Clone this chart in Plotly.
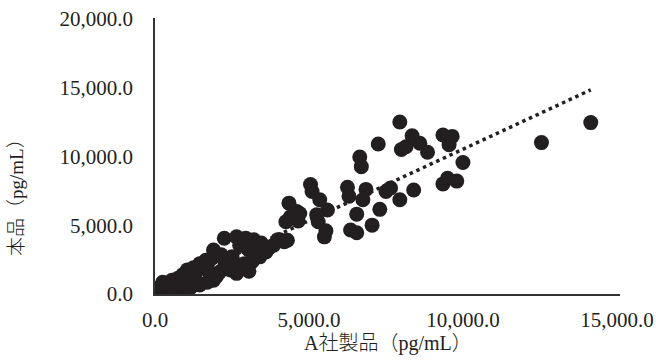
import numpy as np
import plotly.graph_objects as go

# A社製品 (pg/mL) vs 本品 (pg/mL)
x_a = [14150, 12550, 7950, 7250, 8000, 8150, 8350, 8600, 8850, 9350, 9650, 9550, 10000,
       9350, 9500, 9800, 6650, 6700, 6250, 6300, 6850, 6750, 6550, 6350, 6550, 7050, 7300,
       7500, 7650, 7950, 8400, 5050, 5100, 5350, 5600, 5250, 5300, 5500, 5550, 4350, 4600,
       4250, 4650, 4700, 4050, 4300, 4200, 3990, 3500, 2950, 3200, 3000, 3400, 2750, 2250,
       2650, 1900, 1650, 2150, 2500, 3050, 3300, 2750, 3150, 1550, 2100, 2650, 3050, 150,
       250, 400, 550, 750, 900, 1050, 1250, 1450, 1700, 1850, 500, 800, 1150, 1450, 1700,
       1900, 100, 200, 700, 1000, 1300, 2250, 2450, 2900, 3600, 3450, 3700, 3850, 350, 1350,
       2000, 1700, 4400]
y_hon = [12450, 11000, 12500, 10900, 10500, 10700, 11500, 10950, 10300, 11550, 11450, 10850, 9550,
         8000, 8400, 8200, 9950, 9250, 7750, 7100, 7600, 6850, 5800, 4650, 4450, 5000, 6150,
         7450, 7700, 6850, 7550, 7950, 7450, 6850, 6100, 5750, 5250, 4150, 4600, 6600, 6000,
         5250, 5300, 5850, 3950, 3900, 3800, 3950, 3100, 4050, 3950, 3300, 2700, 3550, 4050,
         4150, 3200, 2450, 2850, 2700, 3200, 3300, 2100, 2350, 1900, 1600, 1500, 1650, 500,
         850, 700, 1000, 1150, 1400, 1750, 1900, 2200, 2300, 2600, 300, 300, 450, 650, 850,
         1000, 200, 80, 550, 850, 1150, 1900, 1750, 2200, 3050, 3700, 3350, 3550, 600, 750,
         1300, 1750, 5600]

x_ticks = [0, 5000, 10000, 15000]
y_ticks = [0, 5000, 10000, 15000, 20000]
x_title = "A社製品（pg/mL）"
y_title = "本品（pg/mL）"

# linear trendline from the data
slope, intercept = np.polyfit(x_a, y_hon, 1)
tx = np.array([min(x_a), max(x_a)])
ty = slope * tx + intercept

FONT = "Liberation Serif, Times New Roman, Noto Sans CJK JP, serif"
TITLE_FONT = "Liberation Serif, Times New Roman, Noto Sans CJK JP Light, Noto Sans CJK JP, serif"
DARK = "#231F20"

fig = go.Figure()
fig.add_trace(go.Scatter(x=x_a, y=y_hon, mode="markers",
                         marker=dict(size=15, color=DARK, line=dict(width=0)),
                         showlegend=False, hoverinfo="skip"))
fig.add_trace(go.Scatter(x=tx, y=ty, mode="lines",
                         line=dict(color=DARK, width=3.5, dash="3.5px,3.8px"),
                         showlegend=False, hoverinfo="skip"))

fig.update_layout(
    width=656, height=363,
    margin=dict(l=155, r=36, t=18, b=69),
    paper_bgcolor="white", plot_bgcolor="white",
    font=dict(family=FONT, size=21, color=DARK),
    xaxis=dict(range=[0, 15100], tickvals=x_ticks,
               ticktext=[f"{v:,.1f}" for v in x_ticks],
               showgrid=False, zeroline=False, showline=True,
               linecolor="#333333", linewidth=1.5, ticks="",
               ticklabelstandoff=6, automargin=False),
    yaxis=dict(range=[0, 20050], tickvals=y_ticks,
               ticktext=[f"{v:,.1f}" for v in y_ticks],
               showgrid=False, zeroline=False, showline=True,
               linecolor="#333333", linewidth=1.5, ticks="",
               ticklabelstandoff=16, automargin=False),
    annotations=[
        dict(text=x_title, xref="paper", yref="paper", x=0.5, y=-(343 - 294) / 276,
             xanchor="center", yanchor="middle", showarrow=False,
             font=dict(family=TITLE_FONT, size=20, color=DARK, weight=300)),
        dict(text=y_title, xref="paper", yref="paper", x=-(155 - 17) / 465, y=(294 - 193) / 276,
             xanchor="center", yanchor="middle", showarrow=False, textangle=-90,
             font=dict(family=TITLE_FONT, size=19, color=DARK, weight=300)),
    ],
)

fig.write_html("out.html", config={"displayModeBar": False},
               post_script="document.body.style.margin='0';document.body.style.overflow='hidden';")
